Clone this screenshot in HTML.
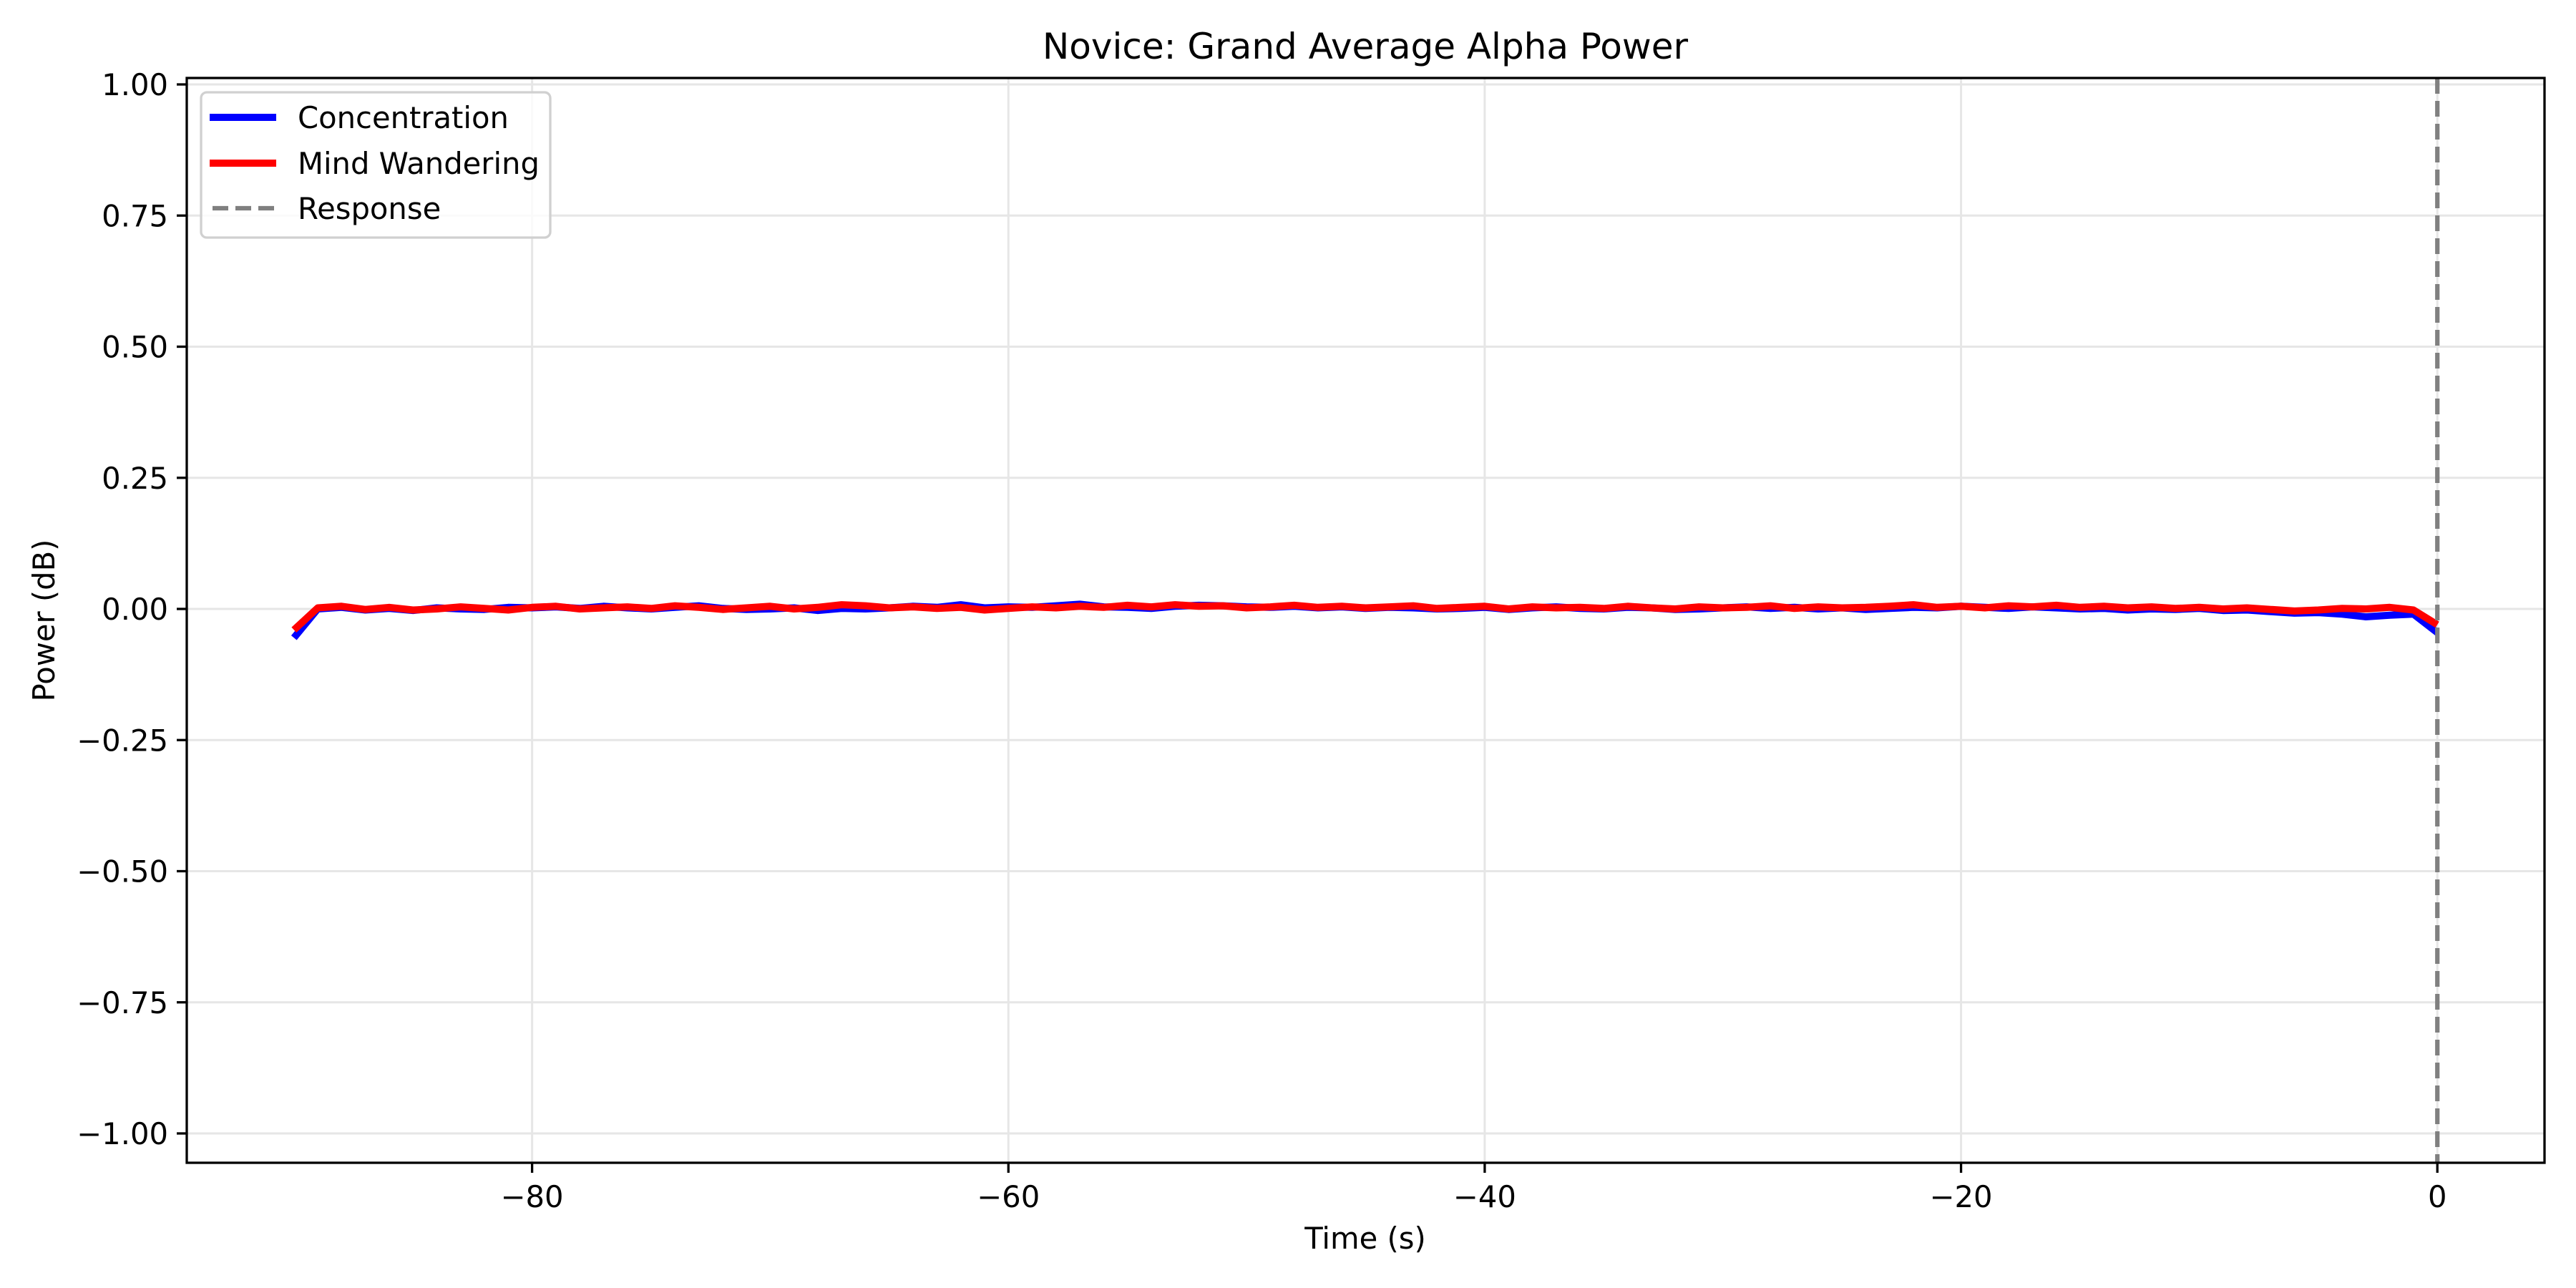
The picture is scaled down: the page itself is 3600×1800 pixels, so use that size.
<!DOCTYPE html>
<html><head><meta charset="utf-8"><style>
html,body{margin:0;padding:0;background:#fff;}
svg{display:block;font-family:"DejaVu Sans","Liberation Sans",sans-serif;}
</style></head><body>
<svg id="chart" width="3600" height="1800" viewBox="0 0 3600 1800" xmlns="http://www.w3.org/2000/svg">
<rect width="3600" height="1800" fill="#fff"/>
<g id="grid"></g>
<g id="series"></g>
<rect x="261" y="109" width="3295" height="1516" fill="none" stroke="#000" stroke-width="3.3"/>
<g id="ticks"></g>
<text x="1908" y="82" font-size="50" text-anchor="middle">Novice: Grand Average Alpha Power</text>
<text x="1908" y="1745" font-size="41.7" text-anchor="middle">Time (s)</text>
<text transform="translate(76,867) rotate(-90)" font-size="41.7" text-anchor="middle">Power (dB)</text>
<g>
<rect x="281" y="129" width="488" height="203" rx="8" fill="#fff" fill-opacity="0.8" stroke="#d0d0d0" stroke-width="3.3"/>
<line x1="293" y1="164" x2="386" y2="164" stroke="#0000ff" stroke-width="10"/>
<text x="416" y="179" font-size="41.7">Concentration</text>
<line x1="293" y1="228" x2="386" y2="228" stroke="#ff0000" stroke-width="10"/>
<text x="416" y="243" font-size="41.7">Mind Wandering</text>
<line x1="297" y1="291" x2="386" y2="291" stroke="#808080" stroke-width="6.2" stroke-dasharray="22,10"/>
<text x="416" y="306" font-size="41.7">Response</text>
</g>
</svg>
<script>
const xTicks=[-80,-60,-40,-20,0];
const xTickLabels=["\u221280","\u221260","\u221240","\u221220","0"];
const yTicks=[1,0.75,0.5,0.25,0,-0.25,-0.5,-0.75,-1];
const yTickLabels=["1.00","0.75","0.50","0.25","0.00","\u22120.25","\u22120.50","\u22120.75","\u22121.00"];
const tStart=-90, tEnd=0;
const concentration=[-55,0,3,-2,1,-3,2,0,-1,3,2,4,1,5,2,0,3,6,1,-1,0,2,-3,1,0,2,5,3,8,2,4,3,6,9,4,3,1,5,7,6,4,3,5,2,4,1,3,2,0,1,3,-1,2,4,1,0,3,2,-1,0,2,4,1,3,0,2,-1,1,3,2,5,3,1,4,2,0,1,-2,0,-1,1,-3,-2,-5,-8,-7,-10,-15,-12,-10,-45];
const mindWandering=[-40,2,5,-1,3,-2,0,4,1,-2,3,5,0,2,4,1,6,3,-1,2,5,0,3,8,6,2,4,1,3,-2,1,4,2,5,3,7,4,8,5,6,2,4,7,3,5,2,4,6,1,3,5,0,4,2,3,1,5,2,0,4,2,3,6,1,4,2,3,5,8,3,5,2,6,4,7,3,5,2,4,1,3,0,2,-1,-4,-2,1,0,3,-2,-30];
const responseTime=[0];
const NS="http://www.w3.org/2000/svg";
const L=261,R=3556,T=109,B=1625;
const xmin=-94.5,xmax=4.5;
function X(v){return L+(v-xmin)/(xmax-xmin)*(R-L);}
function Y(v){return 851-733*v;}
function el(tag,attrs,parent){const e=document.createElementNS(NS,tag);for(const k in attrs)e.setAttribute(k,attrs[k]);parent.appendChild(e);return e;}
const grid=document.getElementById('grid'),ticks=document.getElementById('ticks'),series=document.getElementById('series');
xTicks.forEach((v,i)=>{
 const g=el('line',{x1:X(v),x2:X(v),y1:T,y2:B,stroke:'#e6e6e6','stroke-width':3},grid);
 
 
 const t=el('line',{x1:X(v),x2:X(v),y1:B,y2:B+14,stroke:'#000','stroke-width':3.3},ticks);
 
 
 const l=el('text',{x:X(v),y:B+62,'font-size':41.7,'text-anchor':'middle'},ticks);
 l.textContent=xTickLabels[i];
 
 
});
yTicks.forEach((v,i)=>{
 const g=el('line',{x1:L,x2:R,y1:Y(v),y2:Y(v),stroke:'#e6e6e6','stroke-width':3},grid);
 
 
 const t=el('line',{x1:L-14,x2:L,y1:Y(v),y2:Y(v),stroke:'#000','stroke-width':3.3},ticks);
 
 
 const l=el('text',{x:L-26,y:Y(v)+15,'font-size':41.7,'text-anchor':'end'},ticks);
 l.textContent=yTickLabels[i];
 
 
});
function pts(arr){const n=arr.length;return arr.map((v,i)=>X(tStart+(tEnd-tStart)*i/(n-1)).toFixed(1)+','+Y(v/1000).toFixed(1)).join(' ');}
const c=el('polyline',{points:pts(concentration),fill:'none',stroke:'#0000ff','stroke-width':10,'stroke-linejoin':'round'},series);


const m=el('polyline',{points:pts(mindWandering),fill:'none',stroke:'#ff0000','stroke-width':10,'stroke-linejoin':'round'},series);


responseTime.forEach(v=>{
 const r=el('line',{x1:X(v),x2:X(v),y1:T,y2:B,stroke:'#808080','stroke-width':6.2,'stroke-dasharray':'22,10'},series);
 
 
});
</script>
</body></html>
